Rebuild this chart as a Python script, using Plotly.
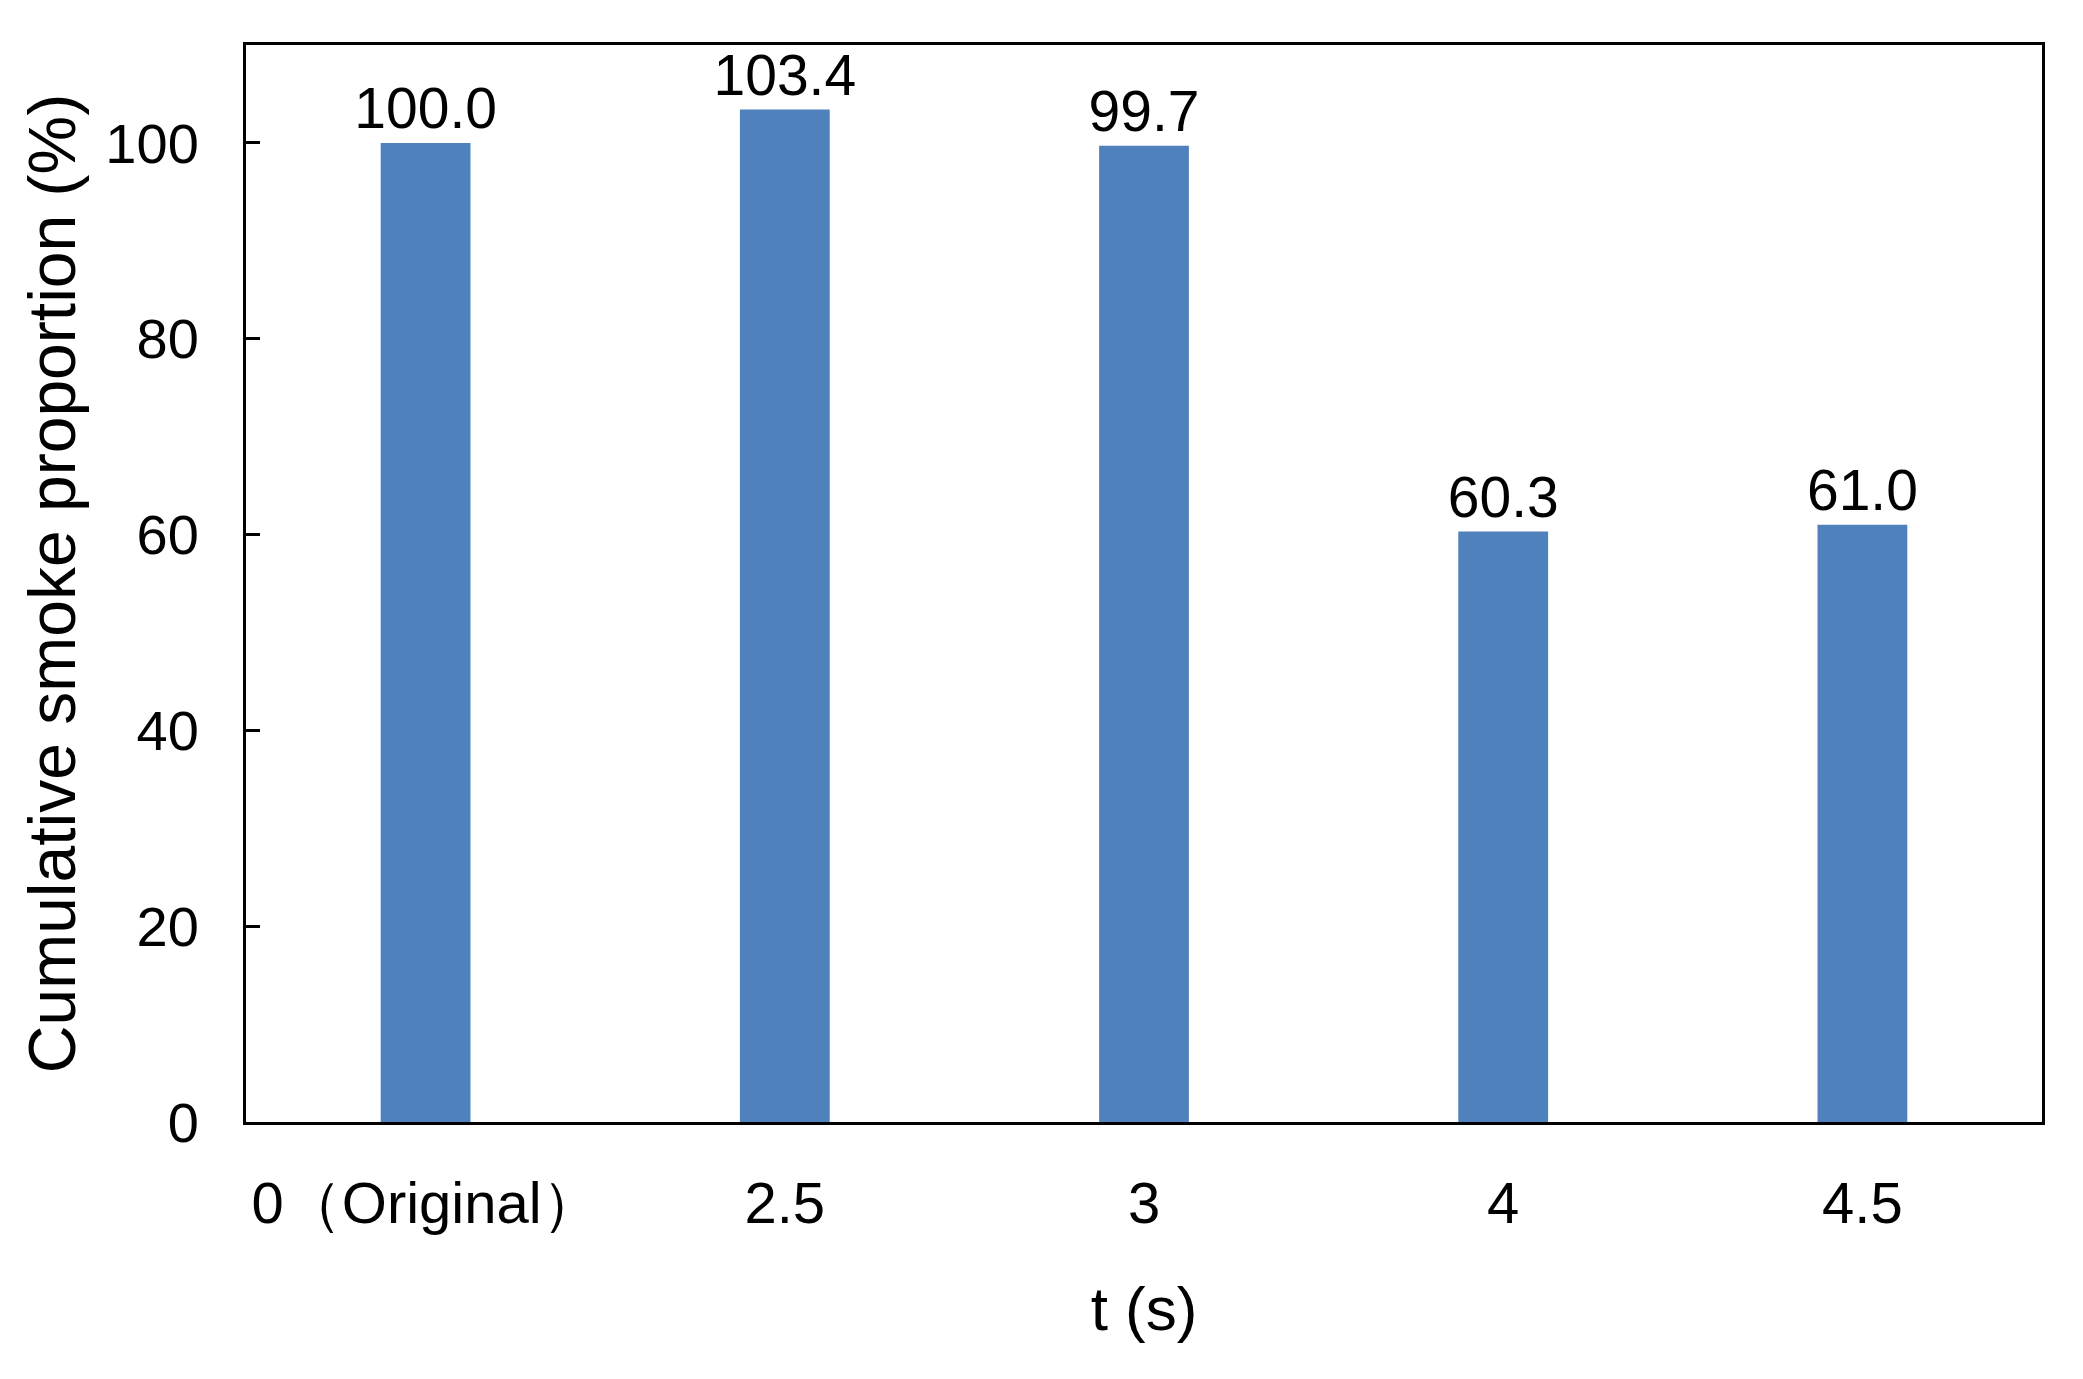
import plotly.graph_objects as go

categories = ["0（Original）", "2.5", "3", "4", "4.5"]
values = [100.0, 103.4, 99.7, 60.3, 61.0]
labels = ["100.0", "103.4", "99.7", "60.3", "61.0"]
y_ticks = [0, 20, 40, 60, 80, 100]

FONT = "Liberation Sans, Arial, sans-serif"

fig = go.Figure()
fig.add_trace(go.Bar(
    x=categories, y=values,
    marker=dict(color="#4F81BD", line=dict(width=0)),
    text=labels, textposition="outside",
    constraintext="none",
    textfont=dict(family=FONT, size=57, color="black"),
    cliponaxis=False,
))

fig.update_layout(
    width=2083, height=1379,
    margin=dict(l=238, r=49, t=37, b=265),
    paper_bgcolor="white", plot_bgcolor="white",
    bargap=0.75,
    showlegend=False,
    font=dict(family=FONT, color="black"),
    uniformtext=dict(mode=False),
)
fig.update_xaxes(
    showline=True, linecolor="black", linewidth=3, mirror=True,
    ticks="", tickfont=dict(family=FONT, size=58, color="black"),
    ticklabelstandoff=28,
    title=dict(text="t (s)", font=dict(family=FONT, size=62, color="black"), standoff=54),
    showgrid=False,
)
fig.update_yaxes(
    range=[0, 110], tickvals=y_ticks,
    showline=True, linecolor="black", linewidth=3, mirror=True,
    ticks="inside", ticklen=14, tickwidth=3, tickcolor="black",
    tickfont=dict(family=FONT, size=56, color="black"),
    ticklabelstandoff=33,
    title=dict(text="Cumulative smoke proportion (%)", font=dict(family=FONT, size=66, color="black"), standoff=9),
    showgrid=False, zeroline=False,
)

fig.write_html("out.html")
